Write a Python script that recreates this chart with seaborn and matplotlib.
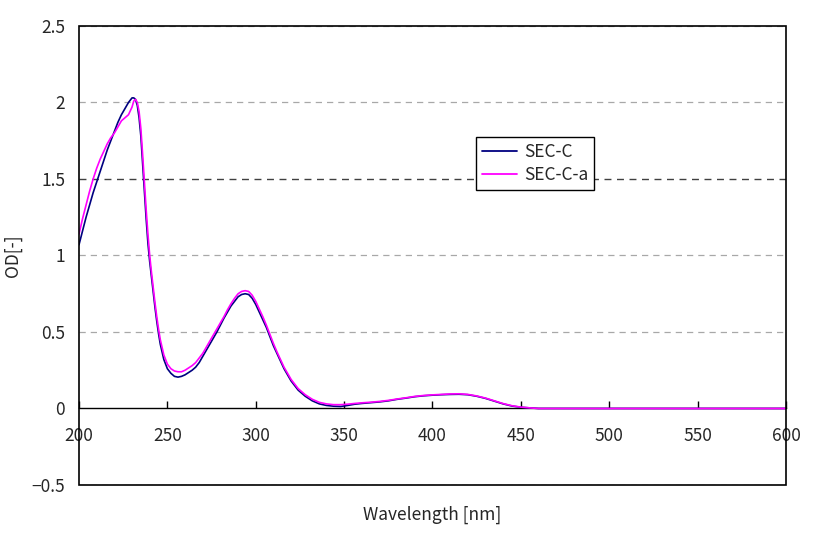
import matplotlib
matplotlib.use("Agg")
import matplotlib.pyplot as plt
import seaborn as sns
import pandas as pd
from matplotlib.patches import Rectangle

wavelength = [200, 202, 204, 206, 208, 210, 212, 214, 216, 218, 220, 222, 224, 226, 228,
              230, 231, 232, 233, 234, 235, 236, 237, 238, 239, 240, 241, 242, 243, 244,
              245, 246, 248, 250, 252, 254, 256, 258, 260, 262, 264, 266, 268, 270, 272,
              274, 276, 278, 280, 282, 284, 286, 288, 290, 292, 294, 296, 298, 300, 302,
              304, 306, 308, 310, 312, 314, 316, 318, 320, 322, 324, 326, 328, 330, 332,
              334, 336, 338, 340, 344, 348, 352, 356, 360, 365, 370, 375, 380, 385, 390,
              395, 400, 405, 410, 415, 420, 425, 430, 435, 440, 445, 450, 455, 460, 600]

sec_c = [1.07, 1.16, 1.25, 1.33, 1.41, 1.48, 1.55, 1.62, 1.69, 1.75, 1.81, 1.87, 1.92, 1.96, 2.00,
         2.03, 2.03, 2.02, 1.98, 1.90, 1.78, 1.60, 1.42, 1.24, 1.08, 0.96, 0.86, 0.76, 0.66, 0.57,
         0.49, 0.42, 0.32, 0.26, 0.23, 0.21, 0.205, 0.21, 0.22, 0.235, 0.25, 0.27, 0.30, 0.34, 0.38,
         0.42, 0.46, 0.50, 0.545, 0.59, 0.63, 0.67, 0.70, 0.73, 0.745, 0.75, 0.745, 0.72, 0.68, 0.63,
         0.58, 0.53, 0.47, 0.41, 0.36, 0.31, 0.26, 0.22, 0.18, 0.15, 0.12, 0.10, 0.08, 0.065, 0.05,
         0.04, 0.03, 0.025, 0.02, 0.015, 0.013, 0.02, 0.028, 0.033, 0.038, 0.043, 0.05, 0.06, 0.068, 0.077,
         0.083, 0.087, 0.09, 0.092, 0.093, 0.09, 0.08, 0.066, 0.048, 0.03, 0.016, 0.008, 0.004, 0.0, 0.0]

sec_c_a = [1.14, 1.24, 1.33, 1.42, 1.50, 1.57, 1.63, 1.68, 1.73, 1.77, 1.80, 1.84, 1.88, 1.90, 1.92,
           1.97, 2.01, 2.02, 2.00, 1.94, 1.83, 1.66, 1.48, 1.30, 1.14, 1.00, 0.89, 0.79, 0.69, 0.60,
           0.52, 0.45, 0.35, 0.29, 0.26, 0.245, 0.24, 0.24, 0.25, 0.265, 0.28, 0.30, 0.33, 0.36, 0.40,
           0.44, 0.48, 0.52, 0.56, 0.60, 0.645, 0.685, 0.72, 0.75, 0.765, 0.77, 0.765, 0.74, 0.70, 0.65,
           0.60, 0.545, 0.485, 0.425, 0.37, 0.32, 0.27, 0.23, 0.19, 0.16, 0.13, 0.11, 0.09, 0.075, 0.06,
           0.05, 0.04, 0.035, 0.03, 0.025, 0.025, 0.028, 0.033, 0.037, 0.041, 0.046, 0.053, 0.062, 0.07, 0.079,
           0.085, 0.089, 0.092, 0.095, 0.096, 0.092, 0.082, 0.068, 0.05, 0.032, 0.018, 0.009, 0.004, 0.0, 0.0]

series_names = ["SEC-C", "SEC-C-a"]
colors = ["#000080", "#FF00FF"]
x_ticks = [200, 250, 300, 350, 400, 450, 500, 550, 600]
y_ticks = [-0.5, 0, 0.5, 1, 1.5, 2, 2.5]

df = pd.concat([
    pd.DataFrame({"Wavelength": wavelength, "OD": sec_c, "Series": series_names[0]}),
    pd.DataFrame({"Wavelength": wavelength, "OD": sec_c_a, "Series": series_names[1]}),
])

sns.set_style("white")
plt.rcParams["font.family"] = ["Noto Sans CJK JP", "DejaVu Sans"]

fig = plt.figure(figsize=(8.22, 5.39), dpi=100)
ax = fig.add_axes([0.0961, 0.1002, 0.8601, 0.8516])

sns.lineplot(data=df, x="Wavelength", y="OD", hue="Series", hue_order=series_names,
             palette=colors, linewidth=1.2, ax=ax, sort=False, zorder=3)

ax.set_xlim(200, 600)
ax.set_ylim(-0.5, 2.5)
ax.set_xticks(x_ticks)
ax.set_yticks(y_ticks)
ax.set_xticklabels([str(v) for v in x_ticks])
ax.set_yticklabels(["\u22120.5", "0", "0.5", "1", "1.5", "2", "2.5"])

# grid
ax.yaxis.grid(True, color="#a8a8a8", linestyle=(0, (5, 4)), linewidth=0.9)
ax.xaxis.grid(False)
gl = ax.get_ygridlines()
gl[y_ticks.index(1.5)].set_color("#404040")
gl[y_ticks.index(1.5)].set_linewidth(1.0)
gl[y_ticks.index(0)].set_visible(False)

# spines: x-axis at y = 0, frame as rectangle
for s in ["top", "right", "left"]:
    ax.spines[s].set_visible(False)
ax.spines["bottom"].set_position(("data", 0))
ax.spines["bottom"].set_color("black")
ax.spines["bottom"].set_linewidth(1.0)
ax.spines["bottom"].set_zorder(2)
ax.add_patch(Rectangle((0, 0), 1, 1, transform=ax.transAxes, fill=False,
                       edgecolor="black", linewidth=1.2, clip_on=False, zorder=5))

ax.tick_params(axis="x", direction="in", length=5, width=1, color="black",
               labelsize=12.5, pad=13, bottom=True)
ax.tick_params(axis="y", length=0, labelsize=12.5, pad=10, left=True)

ax.set_xlabel("Wavelength [nm]", fontsize=12.5)
ax.set_ylabel("OD[-]", fontsize=12.5)
ax.xaxis.set_label_coords(0.5, -0.045)
ax.yaxis.set_label_coords(-0.08, 0.5)

leg = ax.legend(loc="upper left", bbox_to_anchor=(0.5615, 0.758), fontsize=12.5,
                frameon=True, fancybox=False, framealpha=1, edgecolor="black",
                handlelength=2.0, handletextpad=0.4, labelspacing=0.3, borderpad=0.35,
                borderaxespad=0)
leg.get_frame().set_linewidth(1.0)
leg.set_zorder(6)
for line in leg.get_lines():
    line.set_linewidth(1.3)

fig.savefig("out.png", dpi=100, facecolor="white")
